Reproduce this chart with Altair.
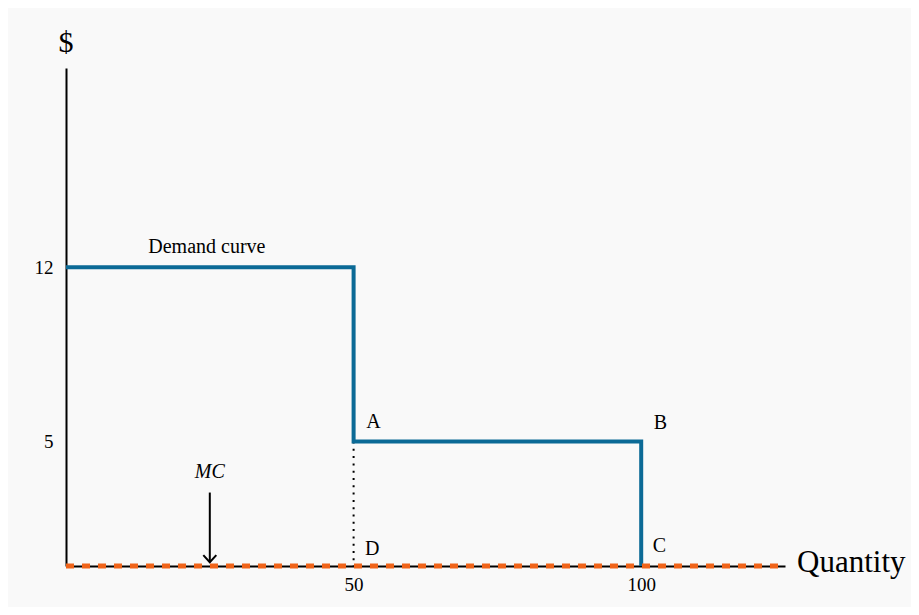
import altair as alt
import pandas as pd

# Demand curve (step) points
demand_q = [0, 50, 50, 100, 100]
demand_p = [12, 12, 5, 5, 0]
demand_order = [0, 1, 2, 3, 4]

# Marginal cost line (zero)
mc_q = [0, 125]
mc_p = [0, 0]

# Dotted guide from A down to D
guide_q = [50, 50]
guide_p = [5, 0]

# Axis ticks
x_ticks = [50, 100]
y_ticks = [5, 12]

# Point labels
pt_text = ["A", "B", "C", "D"]
pt_q = [52.2, 102.2, 102.0, 52.0]
pt_p = [5.78, 5.74, 0.8, 0.68]

# Other annotations
ann_text = ["Demand curve"]
ann_q = [14.3]
ann_p = [12.8]

mc_label_q = [25]
mc_label_p = [3.78]
arrow_q = [25, 25]
arrow_p = [2.95, 0.15]

FONT = "Liberation Serif"

xs = alt.Scale(domain=[0, 125], nice=False, zero=False)
ys = alt.Scale(domain=[0, 20], nice=False, zero=False)

df_demand = pd.DataFrame({"q": demand_q, "p": demand_p, "o": demand_order})
df_mc = pd.DataFrame({"q": mc_q, "p": mc_p})
df_guide = pd.DataFrame({"q": guide_q, "p": guide_p})
df_pts = pd.DataFrame({"q": pt_q, "p": pt_p, "t": pt_text})
df_ann = pd.DataFrame({"q": ann_q, "p": ann_p, "t": ann_text})
df_mclab = pd.DataFrame({"q": mc_label_q, "p": mc_label_p, "t": ["MC"]})
df_arrow = pd.DataFrame({"q": arrow_q, "p": arrow_p})
df_tip = pd.DataFrame({"q": [arrow_q[1]], "p": [arrow_p[1]]})
df_dollar = pd.DataFrame({"q": [0], "p": [21.0], "t": ["$"]})
df_quant = pd.DataFrame({"q": [127.1], "p": [0.12], "t": ["Quantity"]})

x_axis = alt.Axis(values=x_ticks, title=None, grid=False, ticks=False,
                  domain=True, domainColor="black", domainWidth=2,
                  labelFont=FONT, labelFontSize=19, labelColor="black",
                  labelPadding=9)
y_axis = alt.Axis(values=y_ticks, title=None, grid=False, ticks=False,
                  domain=True, domainColor="black", domainWidth=2,
                  labelFont=FONT, labelFontSize=19, labelColor="black",
                  labelPadding=13)

base_guide = alt.Chart(df_guide).mark_line(
    color="black", strokeWidth=2, strokeDash=[2, 5.3], clip=False
).encode(
    x=alt.X("q:Q", scale=xs, axis=x_axis),
    y=alt.Y("p:Q", scale=ys, axis=y_axis),
)

demand = alt.Chart(df_demand).mark_line(
    color="#0b6a96", strokeWidth=4, strokeJoin="miter", clip=False
).encode(
    x=alt.X("q:Q", scale=xs),
    y=alt.Y("p:Q", scale=ys),
    order="o:Q",
)

mc = alt.Chart(df_mc).mark_line(
    color="#f0641a", strokeWidth=5, strokeDash=[8, 8], clip=False
).encode(
    x=alt.X("q:Q", scale=xs),
    y=alt.Y("p:Q", scale=ys),
)

arrow = alt.Chart(df_arrow).mark_line(
    color="black", strokeWidth=2, clip=False
).encode(
    x=alt.X("q:Q", scale=xs),
    y=alt.Y("p:Q", scale=ys),
)

tip = alt.Chart(df_tip).mark_point(
    shape="M-1,-1.1L0,0L1,-1.1", size=169, filled=False,
    stroke="black", strokeWidth=2, opacity=1, clip=False
).encode(
    x=alt.X("q:Q", scale=xs),
    y=alt.Y("p:Q", scale=ys),
)

pts = alt.Chart(df_pts).mark_text(
    font=FONT, fontSize=20, color="black", align="left", baseline="middle"
).encode(
    x=alt.X("q:Q", scale=xs),
    y=alt.Y("p:Q", scale=ys),
    text="t:N",
)

ann = alt.Chart(df_ann).mark_text(
    font=FONT, fontSize=20, color="black", align="left", baseline="middle"
).encode(
    x=alt.X("q:Q", scale=xs),
    y=alt.Y("p:Q", scale=ys),
    text="t:N",
)

mclab = alt.Chart(df_mclab).mark_text(
    font=FONT, fontSize=20, fontStyle="italic", color="black",
    align="center", baseline="middle"
).encode(
    x=alt.X("q:Q", scale=xs),
    y=alt.Y("p:Q", scale=ys),
    text="t:N",
)

dollar = alt.Chart(df_dollar).mark_text(
    font=FONT, fontSize=30, color="black", align="center", baseline="middle"
).encode(
    x=alt.X("q:Q", scale=xs),
    y=alt.Y("p:Q", scale=ys),
    text="t:N",
)

quant = alt.Chart(df_quant).mark_text(
    font=FONT, fontSize=31, color="black", align="left", baseline="middle"
).encode(
    x=alt.X("q:Q", scale=xs),
    y=alt.Y("p:Q", scale=ys),
    text="t:N",
)

chart = alt.layer(
    base_guide, demand, mc, arrow, tip, pts, ann, mclab, dollar, quant
).properties(
    width=719,
    height=498,
    autosize=alt.AutoSizeParams(type="none"),
    padding={"left": 58, "top": 60, "right": 126, "bottom": 41},
    background="#f9f9f9",
).configure_view(stroke=None)

chart.save("out.html", embed_options={"renderer": "svg", "actions": False})
